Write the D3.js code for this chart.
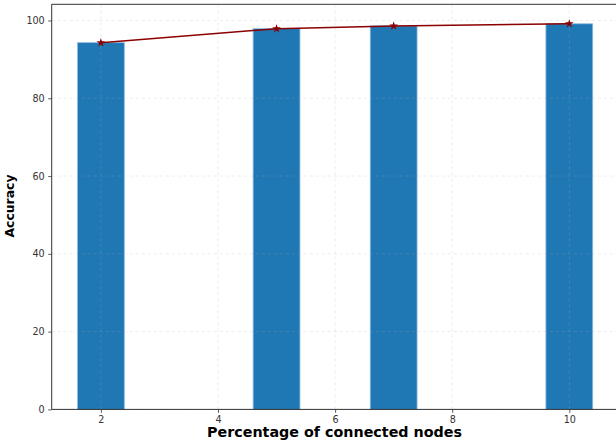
<!DOCTYPE html>
<html>
<head>
<meta charset="utf-8">
<script src="https://cdn.jsdelivr.net/npm/d3@7"></script>
<style>
  html, body { margin: 0; padding: 0; background: #fff; }
  svg { display: block; }
</style>
</head>
<body>
<svg id="chart" width="616" height="445"></svg>
<script>
// Accuracy by percentage of connected nodes
const nodePercents = [2, 5, 7, 10];
const accuracy = [94.3, 97.9, 98.6, 99.15];
const xTicks = [2, 4, 6, 8, 10];
const yTicks = [0, 20, 40, 60, 80, 100];

const W = 616, H = 445;
const margin = { left: 51.7, top: 4.3, right: -2.5, bottom: 35.6 };
const barWidth = 0.8;

const svg = d3.select("#chart");
const plotW = W - margin.left - margin.right;
const plotH = H - margin.top - margin.bottom;

const x = d3.scaleLinear().domain([1.16, 10.84]).range([margin.left, margin.left + plotW]);
const y = d3.scaleLinear().domain([0, 104.16]).range([margin.top + plotH, margin.top]);

// bars
svg.append("g").selectAll("rect").data(nodePercents).join("rect")
  .attr("x", d => x(d - barWidth / 2))
  .attr("width", d => x(d + barWidth / 2) - x(d - barWidth / 2))
  .attr("y", (d, i) => y(accuracy[i]))
  .attr("height", (d, i) => y(0) - y(accuracy[i]))
  .attr("fill", "#1f77b4")
  .attr("stroke", "#8fbde3")
  .attr("stroke-width", 0.8);

// grid over the bars
const grid = svg.append("g").attr("stroke", "#b0b0b0").attr("stroke-opacity", 0.3)
  .attr("stroke-dasharray", "3,3").attr("stroke-width", 0.8);
grid.selectAll("line.gx").data(xTicks).join("line").attr("class", "gx")
  .attr("x1", d => x(d)).attr("x2", d => x(d))
  .attr("y1", y.range()[0]).attr("y2", y.range()[1]);
grid.selectAll("line.gy").data(yTicks).join("line").attr("class", "gy")
  .attr("x1", x.range()[0]).attr("x2", x.range()[1])
  .attr("y1", d => y(d)).attr("y2", d => y(d));

// accuracy trend line with star markers
const pts = nodePercents.map((d, i) => [x(d), y(accuracy[i])]);
svg.append("path")
  .attr("d", d3.line()(pts))
  .attr("fill", "none")
  .attr("stroke", "#8b0000")
  .attr("stroke-width", 1.5);
svg.append("g").selectAll("path").data(pts).join("path")
  .attr("transform", d => `translate(${d[0]},${d[1]})`)
  .attr("d", d3.symbol(d3.symbolStar, 24)())
  .attr("fill", "#8b0000");

// axes
const axisColor = "#333";
const xAxis = svg.append("g")
  .attr("transform", `translate(0,${y(0)})`)
  .call(d3.axisBottom(x).tickValues(xTicks).tickSize(3.5).tickPadding(3).tickFormat(d3.format("d")));
const yAxis = svg.append("g")
  .attr("transform", `translate(${x.range()[0]},0)`)
  .call(d3.axisLeft(y).tickValues(yTicks).tickSize(3.5).tickPadding(3.5).tickFormat(d3.format("d")));
[xAxis, yAxis].forEach(a => {
  a.select(".domain").remove();
  a.selectAll("line").attr("stroke", axisColor).attr("stroke-width", 0.8);
  a.selectAll("text").attr("fill", axisColor)
    .style("font-family", "DejaVu Sans").style("font-size", "9.6px");
});

// spines (left, bottom, top; the right edge falls outside the window)
const spines = svg.append("g").attr("stroke", axisColor).attr("stroke-width", 1).attr("fill", "none");
spines.append("line").attr("x1", x.range()[0]).attr("x2", x.range()[0]).attr("y1", y.range()[0]).attr("y2", y.range()[1]);
spines.append("line").attr("x1", x.range()[0]).attr("x2", x.range()[1]).attr("y1", y.range()[0]).attr("y2", y.range()[0]);
spines.append("line").attr("x1", x.range()[0]).attr("x2", x.range()[1]).attr("y1", y.range()[1]).attr("y2", y.range()[1]);

// axis titles
svg.append("text")
  .attr("x", 334.5).attr("y", 436.5)
  .attr("text-anchor", "middle")
  .style("font-family", "DejaVu Sans").style("font-weight", "bold").style("font-size", "14.3px")
  .text("Percentage of connected nodes");
svg.append("text")
  .attr("transform", `translate(14,206) rotate(-90)`)
  .attr("text-anchor", "middle")
  .style("font-family", "DejaVu Sans").style("font-weight", "bold").style("font-size", "12.4px")
  .text("Accuracy");
</script>
</body>
</html>
